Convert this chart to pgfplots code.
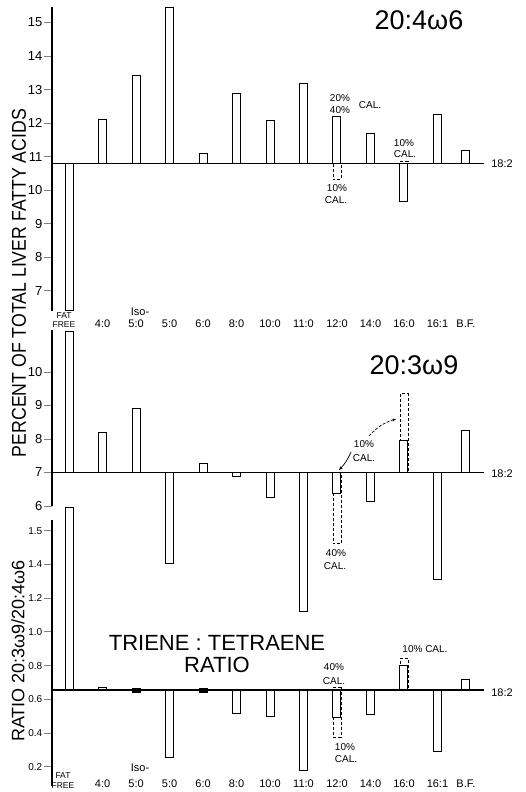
\documentclass[border=0pt]{standalone}
\usepackage{pgfplots}
\pgfplotsset{compat=1.18}
\usepackage{pgfplotstable}
\usepackage{fontspec}
\setmainfont{Liberation Sans}
\usetikzlibrary{arrows.meta}

\newcommand{\fs}[1]{\fontsize{#1}{#1}\selectfont}

% 20:4w6, percent of total liver fatty acids (baseline 18:2 = 10.8)
\pgfplotstableread{
x     v
0     6.40
1     12.10
2     13.41
3     15.45
4     11.10
5     12.88
6     12.08
7     13.19
8     12.19
9     11.68
10    9.66
11    12.27
11.85 11.19
}\tetraene

% 20:3w9, percent of total liver fatty acids (baseline 18:2 = 7.0)
\pgfplotstableread{
x     v
0     11.20
1     8.20
2     8.92
3     4.27
4     7.28
5     6.88
6     6.26
7     2.86
8     6.38
9     6.14
10    7.96
11    3.81
11.85 8.25
}\triene

% triene:tetraene ratio (baseline 18:2 = 0.655); scale is halved above 1.4
\pgfplotstableread{
x     v
0     1.57
1     0.669
3     0.253
5     0.513
6     0.497
7     0.18
8     0.493
9     0.507
10    0.80
11    0.289
11.85 0.715
}\ratio

\pgfplotsset{
  panel/.style={
    scale only axis, width=432pt, xmin=-0.51, xmax=12.39,
    axis y line*=left, axis x line*=bottom,
    x axis line style={draw=none}, y axis line style={-, line width=1.2pt},
    xtick style={draw=none}, ytick style={line width=0.9pt},
    tick align=outside, major tick length=8pt,
    ybar, bar width=8pt, bar shift=0pt, clip=false,
    xtick={1,2,3,4,5,6,7,8,9,10,11,11.85},
    xticklabels={4:0,5:0,5:0,6:0,8:0,10:0,11:0,12:0,14:0,16:0,16:1,B.F.},
    xticklabel style={anchor=base, font=\fs{11}},
    yticklabel style={font=\fs{13}, inner sep=1.5pt},
    /pgf/number format/assume math mode=true,
  },
  bar/.style={draw=black, fill=white, line width=1pt},
  calbar/.style={draw=black, fill=white, line width=0.9pt, dash pattern=on 3pt off 2pt},
  base/.style={sharp plot, no marks, draw=black, line width=1.3pt},
}

\begin{document}
\begin{tikzpicture}
\path[use as bounding box] (0pt,0pt) rectangle (526pt,-792pt);

% ---------- 20:4w6 ----------
\begin{axis}[panel, at={(52pt,-7pt)}, anchor=north west, height=304pt,
  ymin=-4.40, ymax=4.664,
  ytick={-3.8,-2.8,-1.8,-0.8,0.2,1.2,2.2,3.2,4.2},
  yticklabels={7,8,9,10,11,12,13,14,15},
  xticklabel style={yshift=-8pt}]
\addplot[calbar] table[row sep=\\, x=x, y expr=\thisrow{v}-10.8] {x v\\ 8 10.32\\ 10 10.87\\};
\addplot[bar] table[x=x, y expr=\thisrow{v}-10.8] {\tetraene};
\addplot[base] coordinates {(-0.51,0) (12.39,0)};
\end{axis}

% ---------- 20:3w9 ----------
\begin{axis}[panel, at={(52pt,-330pt)}, anchor=north west, height=176pt,
  ymin=-1, ymax=4.254,
  ytick={-1,0,1,2,3}, yticklabels={6,7,8,9,10},
  xticklabels={}]
\addplot[calbar] table[row sep=\\, x=x, y expr=\thisrow{v}-7] {x v\\ 8 4.87\\ 10 9.35\\};
\addplot[bar] table[x=x, y expr=\thisrow{v}-7] {\triene};
\addplot[base] coordinates {(-0.51,0) (12.39,0)};
\end{axis}

% ---------- triene:tetraene ratio ----------
\begin{axis}[panel, at={(52pt,-520pt)}, anchor=north west, height=266pt,
  ymin=-0.5695, ymax=1.009,
  ytick={-0.455,-0.255,-0.055,0.145,0.345,0.545,0.745,0.945},
  yticklabels={0.2,0.4,0.6,0.8,1.0,1.2,1.4,1.5},
  yticklabel style={font=\fs{10}},
  xticklabel style={yshift=7pt}]
\addplot[calbar] table[row sep=\\, x=x, y expr=\thisrow{v}-0.655] {x v\\ 8 0.375\\ 10 0.843\\};
\addplot[calbar] table[row sep=\\, x=x, y expr=\thisrow{v}-0.655] {x v\\ 8 0.669\\};
\addplot[bar] table[x=x, y expr={ifthenelse(\thisrow{v}>1.4, 2*\thisrow{v}-1.4, \thisrow{v})-0.655}] {\ratio};
\addplot[draw=black, fill=black, line width=0.6pt] table[row sep=\\, x=x, y expr=\thisrow{v}-0.655] {x v\\ 2 0.643\\ 4 0.643\\};
\addplot[draw=black, fill=black, line width=0.6pt] table[row sep=\\, x=x, y expr=\thisrow{v}-0.655] {x v\\ 2 0.665\\ 4 0.665\\};
\addplot[base] coordinates {(-0.51,0) (12.39,0)};
\end{axis}

% ---------- lettering ----------
\node[rotate=90] at (19pt,-283pt) {\fs{20}\scalebox{0.885}[1]{PERCENT OF TOTAL LIVER FATTY ACIDS}};
\node[rotate=90] at (18pt,-651pt) {\fs{18}RATIO 20:3ω9/20:4ω6};

\node at (419pt,-20pt) {\fs{27}20:4ω6};
\node at (414pt,-365pt) {\fs{27}20:3ω9};
\node[align=center, font=\fs{22}] at (217pt,-654pt) {TRIENE : TETRAENE\\RATIO};

\foreach \yy in {164,474,693} \node at (502pt,-\yy pt) {\fs{11}18:2};

% FAT FREE and Iso- labels
\node at (64pt,-316pt) {\fs{8.5}FAT};
\node at (64pt,-325pt) {\fs{8.5}FREE};
\node at (140pt,-312pt) {\fs{11}Iso-};
\node at (63pt,-776pt) {\fs{8.5}FAT};
\node at (63pt,-786pt) {\fs{8.5}FREE};
\node at (140pt,-768pt) {\fs{11}Iso-};

% calorie notes, 20:4w6
\node at (340pt,-98pt) {\fs{10}20\%};
\node at (340pt,-110pt) {\fs{10}40\%};
\node at (370pt,-105pt) {\fs{10}CAL.};
\node at (337pt,-188pt) {\fs{10}10\%};
\node at (336pt,-200pt) {\fs{10}CAL.};
\node at (404pt,-143pt) {\fs{10}10\%};
\node at (405pt,-154pt) {\fs{10}CAL.};

% calorie notes, 20:3w9
\node at (364pt,-444pt) {\fs{10}10\%};
\node at (364pt,-458pt) {\fs{10}CAL.};
\draw[-{Stealth[length=4pt]}, line width=0.7pt, dash pattern=on 3pt off 1.5pt] (369pt,-436pt) to[bend left=15] (396pt,-419pt);
\draw[-{Stealth[length=4pt]}, line width=0.7pt] (351pt,-452pt) to[bend left=10] (339pt,-470pt);
\node at (336pt,-553pt) {\fs{10}40\%};
\node at (335pt,-566pt) {\fs{10}CAL.};

% calorie notes, ratio
\node at (334pt,-667pt) {\fs{10}40\%};
\node at (334pt,-681pt) {\fs{10}CAL.};
\node at (345pt,-747pt) {\fs{10}10\%};
\node at (346pt,-759pt) {\fs{10}CAL.};
\node at (425pt,-649pt) {\fs{10}10\% CAL.};
\end{tikzpicture}
\end{document}
